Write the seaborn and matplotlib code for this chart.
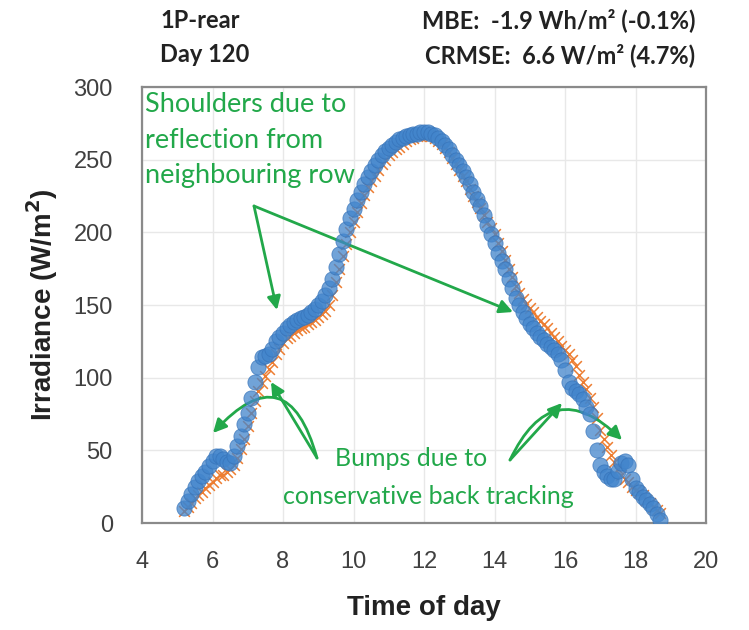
import numpy as np
import pandas as pd
import matplotlib
matplotlib.use("Agg")
import matplotlib.pyplot as plt
import seaborn as sns

# ---------------- data ----------------
time_h = [5.2, 5.3, 5.4, 5.5, 5.6, 5.7, 5.8, 5.9, 6.0, 6.1, 6.2, 6.3, 6.4, 6.5, 6.6, 6.7, 6.8, 6.9,
          7.0, 7.1, 7.2, 7.3, 7.4, 7.5, 7.6, 7.7, 7.8, 7.9, 8.0, 8.1, 8.2, 8.3, 8.4, 8.5, 8.6, 8.7,
          8.8, 8.9, 9.0, 9.1, 9.2, 9.3, 9.4, 9.5, 9.6, 9.7, 9.8, 9.9, 10.0, 10.1, 10.2, 10.3, 10.4,
          10.5, 10.6, 10.7, 10.8, 10.9, 11.0, 11.1, 11.2, 11.3, 11.4, 11.5, 11.6, 11.7, 11.8, 11.9,
          12.0, 12.1, 12.2, 12.3, 12.4, 12.5, 12.6, 12.7, 12.8, 12.9, 13.0, 13.1, 13.2, 13.3, 13.4,
          13.5, 13.6, 13.7, 13.8, 13.9, 14.0, 14.1, 14.2, 14.3, 14.4, 14.5, 14.6, 14.7, 14.8, 14.9,
          15.0, 15.1, 15.2, 15.3, 15.4, 15.5, 15.6, 15.7, 15.8, 15.9, 16.0, 16.1, 16.2, 16.3, 16.4,
          16.5, 16.6, 16.7, 16.8, 16.9, 17.0, 17.1, 17.2, 17.3, 17.4, 17.5, 17.6, 17.7, 17.8, 17.9,
          18.0, 18.1, 18.2, 18.3, 18.4, 18.5, 18.6, 18.7]

measured = [10, 15, 20, 25, 29, 32, 35, 39, 43, 46, 46, 44, 42, 41, 46, 53, 60, 68,
            76, 86, 97, 107, 114, 115, 116, 120, 125, 128, 131, 134, 136, 138, 140, 141, 142, 143,
            145, 147, 150, 153, 157, 162, 168, 176, 185, 194, 202, 210, 216, 222, 228, 233, 238,
            242, 246, 250, 253, 256, 258, 260, 262, 264, 265, 266, 267, 268, 268, 269,
            269, 269, 268, 267, 265, 263, 260, 257, 253, 250, 246, 242, 238, 233, 228,
            223, 218, 212, 205, 199, 193, 186, 180, 175, 168, 162, 155, 150, 145, 141,
            137, 134, 131, 128, 126, 123, 121, 119, 116, 112, 105, 97, 93, 91, 89,
            85, 80, 75, 63, 50, 40, 35, 32, 30, 30, 36, 41, 43, 40, 30,
            24, 21, 18, 16, 13, 10, 6, 2]

modelled = [8, 11, 14, 17, 19, 21, 24, 26, 28, 31, 33, 33, 35, 37, 40, 45, 51, 58,
            67, 76, 84, 91, 96, 101, 106, 111, 116, 120, 124, 127, 129, 131, 133, 134, 135, 137,
            138, 140, 142, 144, 146, 150, 157, 166, 175, 184, 192, 200, 207, 214, 220, 226, 231,
            235, 239, 243, 247, 250, 253, 255, 257, 259, 261, 263, 264, 265, 266, 266,
            267, 267, 266, 265, 263, 261, 258, 255, 251, 247, 243, 239, 235, 230, 225,
            221, 217, 212, 207, 203, 199, 193, 187, 181, 175, 169, 163, 158, 154, 151,
            148, 145, 142, 139, 137, 134, 131, 128, 125, 122, 119, 116, 112, 108, 102,
            97, 92, 86, 80, 72, 64, 58, 52, 47, 42, 37, 33, 30, 28, 25,
            23, 21, 19, 16, 14, 11, 9, 7]

x_ticks = [4, 6, 8, 10, 12, 14, 16, 18, 20]
y_ticks = [0, 50, 100, 150, 200, 250, 300]

df = pd.DataFrame({"time": time_h, "measured": measured, "modelled": modelled})

# ---------------- figure ----------------
sns.set_style("white")
plt.rcParams["font.family"] = ["Liberation Sans", "DejaVu Sans"]

W, H = 749, 630
fig = plt.figure(figsize=(W / 100, H / 100), dpi=100)
L, R, T, B = 142, 706, 87, 523
ax = fig.add_axes([L / W, 1 - B / H, (R - L) / W, (B - T) / H])

BLUE = "#4285CC"
ORANGE = "#ED7D31"
GREEN = "#22A84A"

sns.scatterplot(data=df, x="time", y="modelled", ax=ax, marker="x", s=60,
                color=ORANGE, linewidth=1.1, zorder=3, legend=False)
sns.scatterplot(data=df, x="time", y="measured", ax=ax, marker="o", s=120,
                color=BLUE, edgecolor="#3572B8", linewidth=0.6, alpha=0.75,
                zorder=4, legend=False)

ax.set_xlim(4, 20)
ax.set_ylim(0, 300)
ax.set_xticks(x_ticks)
ax.set_yticks(y_ticks)
ax.grid(True, color="#e8e8e8", linewidth=1.0, zorder=0)
ax.set_axisbelow(True)
for s in ax.spines.values():
    s.set_color("#8a8a8a")
    s.set_linewidth(1.6)
ax.tick_params(axis="both", length=0, labelsize=17, labelcolor="#404040")
ax.tick_params(axis="y", pad=21)
ax.tick_params(axis="x", pad=20)

ax.set_xlabel("Time of day", fontsize=20, fontweight="bold", color="#222222", labelpad=16)
ax.set_ylabel("Irradiance (W/m$^\\mathbf{2}$)", fontsize=20, fontweight="bold",
              color="#222222", labelpad=10)


def px(x, y):
    """convert reference pixel position (top-left origin) to data coords"""
    return (4 + (x - L) / ((R - L) / 16.0), (B - y) / ((B - T) / 300.0))


# header texts
hdr = dict(fontsize=17, color="#222222", family=["Lato", "DejaVu Sans"], fontweight="bold")
fig.text(160 / W, 1 - 20 / H, "1P-rear", ha="left", va="center", **hdr)
fig.text(160 / W, 1 - 55 / H, "Day 120", ha="left", va="center", **hdr)
fig.text(695 / W, 1 - 20 / H, "MBE:  -1.9 Wh/m² (-0.1%)", ha="right", va="center", **hdr)
fig.text(695 / W, 1 - 55 / H, "CRMSE:  6.6 W/m² (4.7%)", ha="right", va="center", **hdr)

# annotations
fam = ["Lato", "DejaVu Sans"]
ax.text(*px(145, 104), "Shoulders due to", ha="left", va="center",
        fontsize=19.5, color=GREEN, family=fam)
ax.text(*px(145, 140), "reflection from", ha="left", va="center",
        fontsize=19.5, color=GREEN, family=fam)
ax.text(*px(145, 175), "neighbouring row", ha="left", va="center",
        fontsize=19.5, color=GREEN, family=fam)
ax.text(*px(411, 459), "Bumps due to", ha="center", va="center",
        fontsize=18, color=GREEN, family=fam)
ax.text(*px(428, 497), "conservative back tracking", ha="center", va="center",
        fontsize=18, color=GREEN, family=fam)

aprops = dict(arrowstyle="-|>", color=GREEN, lw=2, mutation_scale=20, shrinkA=0, shrinkB=0)
ax.annotate("", xy=px(277, 310), xytext=px(254, 206), arrowprops=aprops)
ax.annotate("", xy=px(513, 312), xytext=px(254, 206), arrowprops=aprops)
ax.annotate("", xy=px(271, 382), xytext=px(317, 458), arrowprops=aprops)
ax.annotate("", xy=px(213, 433), xytext=px(317, 458),
            arrowprops=dict(aprops, connectionstyle="arc3,rad=0.9"))
ax.annotate("", xy=px(562, 403), xytext=px(510, 460), arrowprops=aprops)
ax.annotate("", xy=px(622, 440), xytext=px(510, 460),
            arrowprops=dict(aprops, connectionstyle="arc3,rad=-0.7"))

fig.savefig("out.png", dpi=100)
